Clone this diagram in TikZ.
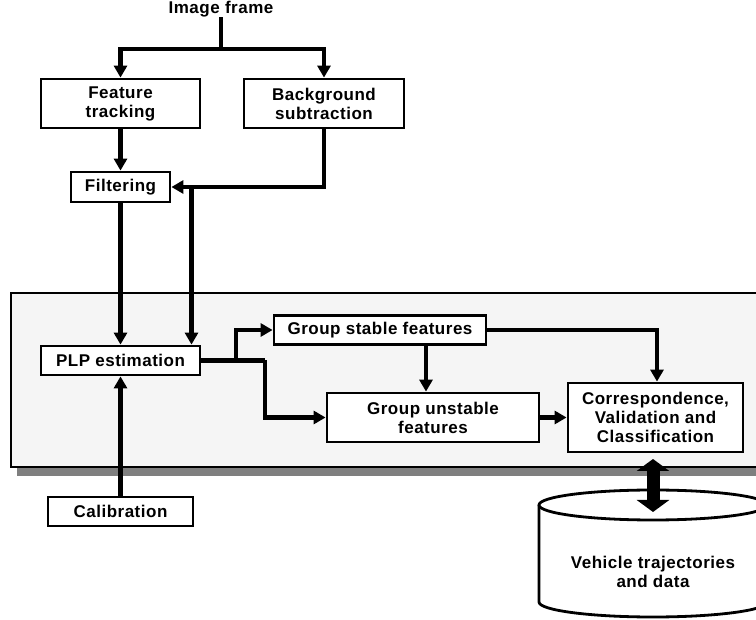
\documentclass[tikz,border=0pt]{standalone}
\usepackage{fontspec}
\setmainfont{Liberation Sans}[LetterSpace=3]
\usetikzlibrary{arrows.meta,calc}
\definecolor{panelfill}{HTML}{F5F5F5}
\definecolor{shadowgray}{HTML}{7F7F7F}
\begin{document}
\begin{tikzpicture}[x=1pt,y=-1pt,
  every node/.style={font=\bfseries\fontsize{17}{19}\selectfont, align=center, inner sep=0pt},
  box/.style={draw, line width=2.8pt, fill=white},
  arr/.style={line width=4.2pt, -{Triangle[length=12pt,width=13pt]}},
  ln/.style={line width=4.2pt},
  dbl/.style={line width=13pt, {Triangle[length=12pt,width=32pt]}-{Triangle[length=12pt,width=32pt]}}]
\clip (0,0) rectangle (756,620);
\fill[white] (0,0) rectangle (756,620);
% panel
\fill[shadowgray] (17,301) rectangle (780,476);
\draw[line width=2.4pt, fill=panelfill] (11,293) rectangle (775,467);
% nodes
\node (title) at (221,9) {Image frame};
\node[box, minimum width=159pt, minimum height=49pt] (feat) at (120.5,103.5) {Feature\\tracking};
\node[box, minimum width=160pt, minimum height=49pt] (bg) at (324,103.5) {Background\\subtraction};
\node[box, minimum width=99pt, minimum height=30pt] (filt) at (120.5,187) {Filtering};
\node[box, minimum width=159pt, minimum height=29pt] (plp) at (120.5,360.5) {PLP estimation};
\node[box, minimum width=145pt, minimum height=29pt] (calib) at (120.5,511.5) {Calibration};
\node[box, minimum width=212pt, minimum height=29pt] (gs) at (380,330) {Group stable features};
\node[box, minimum width=212pt, minimum height=49pt] (gu) at (433,417.5) {Group unstable\\features};
\node[box, minimum width=175pt, minimum height=69pt] (corr) at (655.5,417.5) {Correspondence,\\Validation and\\Classification};
% coordinates
\coordinate (split) at (221,49);
\coordinate (bgturn) at (324,187);
\coordinate (bgdown) at (191.5,187);
\coordinate (plpa) at (236,360.5);
\coordinate (plpb) at (265,360.5);
\coordinate (gsdown) at (426,344);
\coordinate (dtop) at (653,459);
\coordinate (dbot) at (653,512);
% connectors
\draw[ln] (title.south) -- (split);
\draw[arr] (split) -| (feat.north);
\draw[arr] (split) -| (bg.north);
\draw[arr] (feat.south) -- (filt.north);
\draw[arr] (bg.south) -- (bgturn) -- (filt.east);
\draw[arr] (bgdown) -- (bgdown |- plp.north);
\draw[arr] (filt.south) -- (plp.north);
\draw[arr] (calib.north) -- (plp.south);
\draw[ln] (plp.east) -- (plpb);
\draw[arr] (plpa) |- (gs.west);
\draw[arr] (plpb) |- (gu.west);
\draw[arr] (gsdown) -- (gsdown |- gu.north);
\draw[arr] (gs.east) -| ($(corr.north)+(1.5,0)$);
\draw[arr] (gu.east) -- (corr.west);
% database cylinder
\draw[line width=2.8pt, fill=white] (539,505) -- (539,602) arc[start angle=180, end angle=0, x radius=114, y radius=15] -- (767,505);
\draw[line width=2.8pt, fill=white] (653,505) ellipse[x radius=114, y radius=15];
\node (db) at (653,572) {Vehicle trajectories\\and data};
\draw[dbl] (dtop) -- (dbot);
\end{tikzpicture}
\end{document}
